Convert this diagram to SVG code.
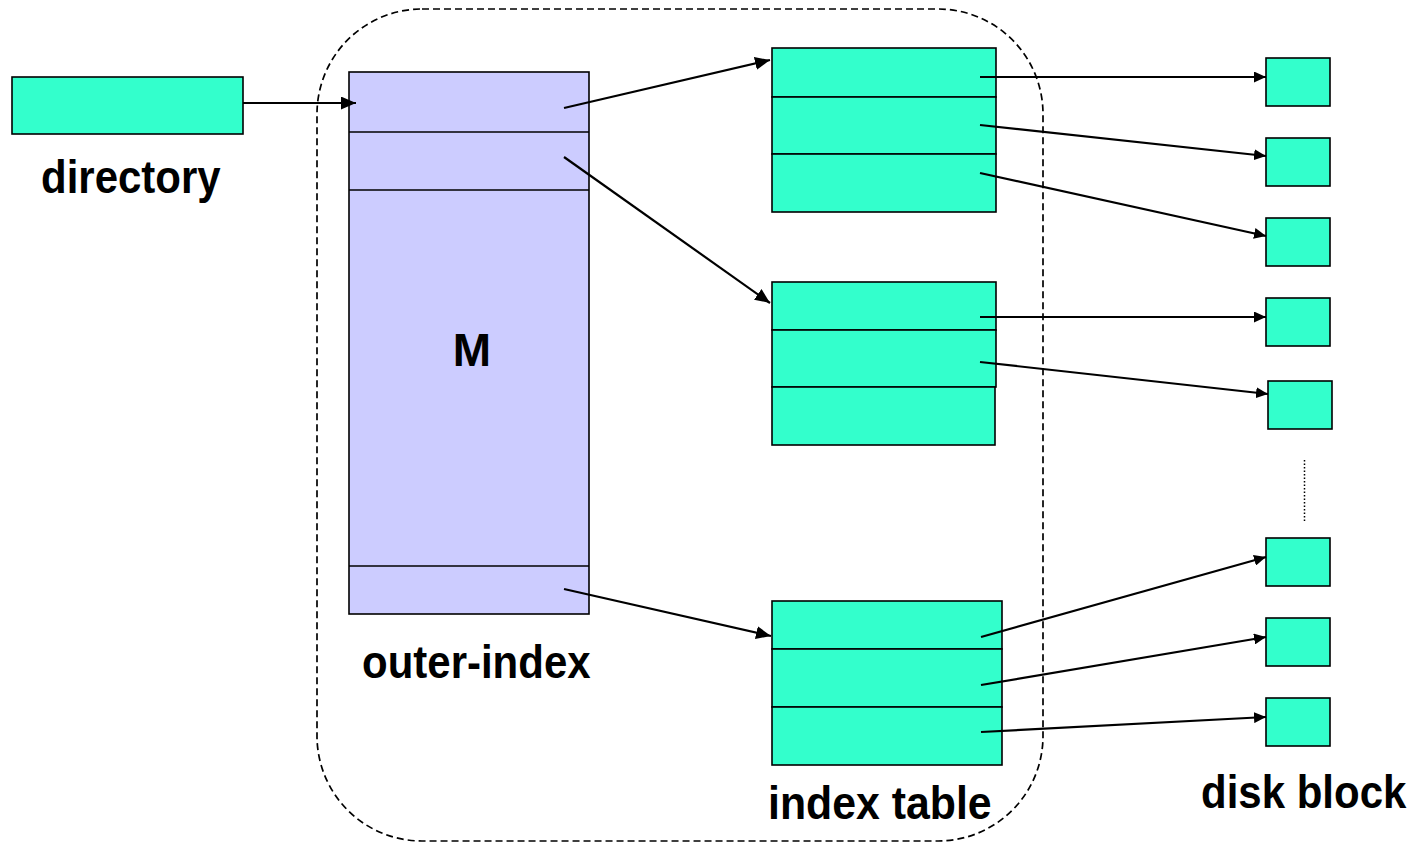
<svg xmlns="http://www.w3.org/2000/svg" width="1416" height="842" viewBox="0 0 1416 842">
  <style>
    .cell { fill: #33ffcc; stroke: #000; stroke-width: 1.6; }
    .outer { fill: #ccccff; stroke: #000; stroke-width: 1.6; }
    .link { fill: none; stroke: #000; stroke-width: 2.2; }
    .label { font-family: "Liberation Sans", Arial, sans-serif; font-weight: bold; font-size: 42px; fill: #000; }
  </style>
  <defs>
    <marker id="head" markerUnits="userSpaceOnUse" markerWidth="16" markerHeight="13" refX="15" refY="6.5" orient="auto">
      <path d="M0,0 L15,6.5 L0,13 Z" fill="#000"/>
    </marker>
    <marker id="head-sm" markerUnits="userSpaceOnUse" markerWidth="13" markerHeight="11" refX="12" refY="5.5" orient="auto">
      <path d="M0,0 L12,5.5 L0,11 Z" fill="#000"/>
    </marker>
  </defs>
  <rect width="1416" height="842" fill="#fff"/>

  <!-- memory boundary -->
  <rect id="boundary" x="317" y="9" width="726" height="832" rx="105" ry="105" fill="none" stroke="#000" stroke-width="1.7" stroke-dasharray="7,4"/>

  <g id="directory">
    <rect class="cell" x="12" y="77" width="231" height="57"/>
    <text class="label" transform="translate(41,193) scale(1,1.12)">directory</text>
  </g>

  <g id="outer-index">
    <rect class="outer" x="349" y="72" width="240" height="542"/>
    <line x1="349" y1="132" x2="589" y2="132" stroke="#000" stroke-width="1.6"/>
    <line x1="349" y1="190" x2="589" y2="190" stroke="#000" stroke-width="1.6"/>
    <line x1="349" y1="566" x2="589" y2="566" stroke="#000" stroke-width="1.6"/>
    <text x="472" y="366" text-anchor="middle" font-family="Liberation Sans, Arial, sans-serif" font-weight="bold" font-size="46">M</text>
    <text class="label" transform="translate(362,678) scale(1,1.12)">outer-index</text>
  </g>

  <g id="index-table-1">
    <rect class="cell" x="772" y="48" width="224" height="49"/>
    <rect class="cell" x="772" y="97" width="224" height="57"/>
    <rect class="cell" x="772" y="154" width="224" height="58"/>
  </g>

  <g id="index-table-2">
    <rect class="cell" x="772" y="282" width="224" height="48"/>
    <rect class="cell" x="772" y="330" width="224" height="57"/>
    <rect class="cell" x="772" y="387" width="223" height="58"/>
  </g>

  <g id="index-table-3">
    <rect class="cell" x="772" y="601" width="230" height="48"/>
    <rect class="cell" x="772" y="649" width="230" height="58"/>
    <rect class="cell" x="772" y="707" width="230" height="58"/>
    <text class="label" transform="translate(768,819) scale(1.02,1.12)">index table</text>
  </g>

  <g id="disk-blocks">
    <rect class="cell" x="1266" y="58" width="64" height="48"/>
    <rect class="cell" x="1266" y="138" width="64" height="48"/>
    <rect class="cell" x="1266" y="218" width="64" height="48"/>
    <rect class="cell" x="1266" y="298" width="64" height="48"/>
    <rect class="cell" x="1268" y="381" width="64" height="48"/>
    <rect class="cell" x="1266" y="538" width="64" height="48"/>
    <rect class="cell" x="1266" y="618" width="64" height="48"/>
    <rect class="cell" x="1266" y="698" width="64" height="48"/>
    <line x1="1304.5" y1="460" x2="1304.5" y2="522" stroke="#000" stroke-width="1.5" stroke-dasharray="1.5,2"/>
    <text class="label" transform="translate(1201,808) scale(1,1.12)">disk block</text>
  </g>

  <g id="connectors">
    <line class="link" x1="243" y1="103" x2="356" y2="103" marker-end="url(#head)"/>
    <line class="link" x1="564" y1="108" x2="770" y2="60" marker-end="url(#head)"/>
    <line class="link" x1="564" y1="157" x2="770" y2="303" marker-end="url(#head)"/>
    <line class="link" x1="564" y1="589" x2="771" y2="636" marker-end="url(#head)"/>

    <line class="link" x1="980" y1="77" x2="1266" y2="77" marker-end="url(#head-sm)"/>
    <line class="link" x1="980" y1="125" x2="1266" y2="156" marker-end="url(#head-sm)"/>
    <line class="link" x1="980" y1="173" x2="1266" y2="236" marker-end="url(#head-sm)"/>

    <line class="link" x1="980" y1="317" x2="1266" y2="317" marker-end="url(#head-sm)"/>
    <line class="link" x1="980" y1="362" x2="1268" y2="394" marker-end="url(#head-sm)"/>

    <line class="link" x1="981" y1="637" x2="1266" y2="557" marker-end="url(#head-sm)"/>
    <line class="link" x1="981" y1="685" x2="1266" y2="637" marker-end="url(#head-sm)"/>
    <line class="link" x1="981" y1="732" x2="1266" y2="717" marker-end="url(#head-sm)"/>
  </g>
</svg>
